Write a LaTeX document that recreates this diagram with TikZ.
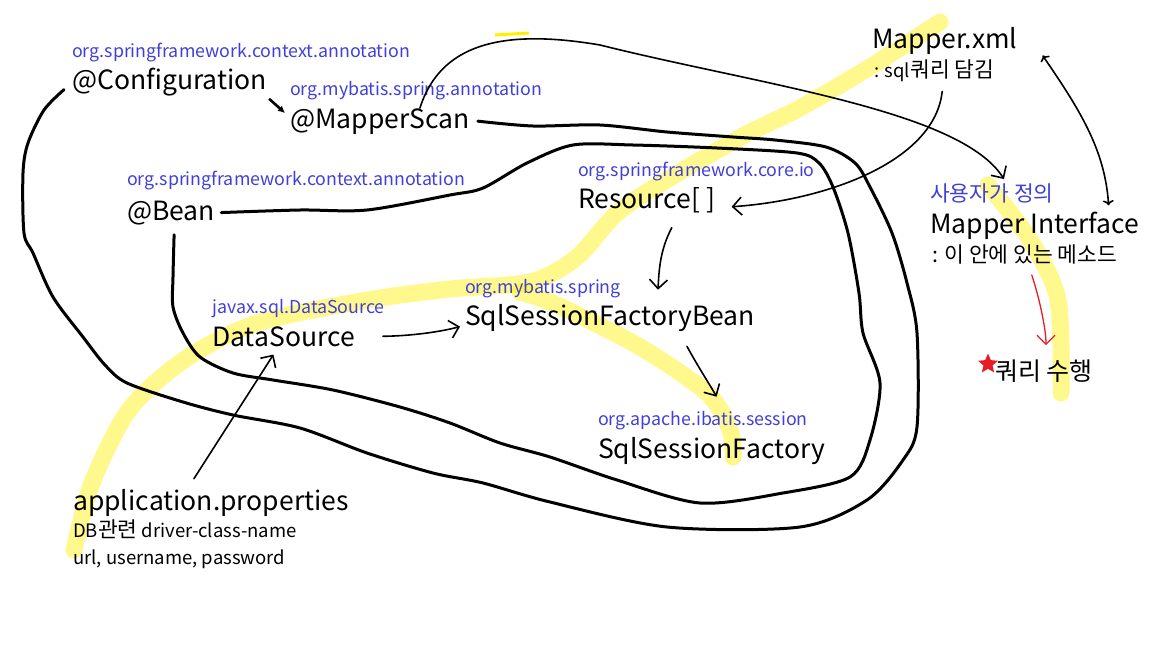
\documentclass[tikz,border=0pt]{standalone}
\usepackage{fontspec}
\setmainfont{Noto Sans CJK KR}
\usetikzlibrary{arrows.meta,shapes.geometric}
\definecolor{pkgblue}{RGB}{64,64,216}
\definecolor{hilite}{RGB}{255,240,0}
\definecolor{runred}{RGB}{232,28,36}
\newcommand\kr[1]{{\fontsize{21.5}{24}\selectfont #1}}
\tikzset{
  pkg/.style={anchor=base west,inner sep=0pt,text=pkgblue,font=\fontsize{17.8}{20}\selectfont},
  cls/.style={anchor=base west,inner sep=0pt,font=\fontsize{26.5}{30}\selectfont},
  note/.style={anchor=base west,inner sep=0pt,font=\fontsize{18.5}{22}\selectfont},
  ring/.style={line width=3pt,line cap=round,line join=round},
  link/.style={-{Straight Barb[length=9pt,width=18pt]},line width=1.6pt,line cap=round},
  marker/.style={hilite,opacity=.45,line width=17pt,line cap=round,line join=round},
}
\begin{document}
\begin{tikzpicture}[x=1pt,y=-1pt]
  \useasboundingbox (0,0) rectangle (1152,648);
  % highlighter strokes
  \draw[marker] plot[smooth] coordinates {(74,550) (92,483) (129,410) (184,360) (257,323) (368,300) (450,289) (530,282) (576,258) (615,215) (655,187) (741,137) (800,108) (870,67) (940,22)};
  \draw[marker] plot[smooth] coordinates {(520,292) (557,305) (640,347) (707,393) (730,430) (733,457)};
  \draw[marker] plot[smooth] coordinates {(988,185) (1030,240) (1058,300) (1061,393)};
  \draw[hilite,line width=3pt] (495,35) -- (529,33);

  % spring side
  \node[pkg] (confpkg) at (72,57) {org.springframework.context.annotation};
  \node[cls] (conf) at (72,89) {@Configuration};
  \node[pkg] (scanpkg) at (290,95) {org.mybatis.spring.annotation};
  \node[cls] (scan) at (290,128) {@MapperScan};
  \node[pkg] (beanpkg) at (127,185) {org.springframework.context.annotation};
  \node[cls] (bean) at (127,220) {@Bean};
  \node[pkg] (respkg) at (578,176) {org.springframework.core.io};
  \node[cls] (res) at (578,208) {Resource[ ]};
  \node[pkg] (dspkg) at (212,313) {javax.sql.DataSource};
  \node[cls] (ds) at (212,346) {DataSource};
  \node[pkg] (sfbpkg) at (465,293) {org.mybatis.spring};
  \node[cls] (sfb) at (465,325) {SqlSessionFactoryBean};
  \node[pkg] (sfpkg) at (598,425) {org.apache.ibatis.session};
  \node[cls] (sf) at (598,458) {SqlSessionFactory};

  % mapper side
  \node[cls] (xml) at (872,48) {Mapper.xml};
  \node[note] (xmlnote) at (874,77) {: sql\kr{쿼리 담김}};
  \node[pkg] (ifacepkg) at (930,201) {\kr{사용자가 정의}};
  \node[cls] (iface) at (930,233) {Mapper Interface};
  \node[note] (ifacenote) at (932,262) {\kr{: 이 안에 있는 메소드}};
  \node[note,font=\fontsize{25}{28}\selectfont] (run) at (995,380) {쿼리 수행};
  \node[star,star points=5,star point ratio=2.2,fill=runred,inner sep=0pt,minimum size=21pt] (runstar) at (988,364) {};

  % properties
  \node[cls] (props) at (73,510) {application.properties};
  \node[note] (propsnote) at (73,537) {DB\kr{관련} driver-class-name};
  \node[note] (propsnote2) at (73,564) {url, username, password};

  % groups
  \draw[ring] plot[smooth] coordinates {([shift={(-8,8)}]conf.west) (44,110) (28,143) (23,173) (24,233) (33,253) (53,297) (83,337) (105,365) (127,383) (183,402) (233,415) (300,428) (367,453) (433,473) (483,483) (550,502) (667,527) (800,527) (867,500) (903,460) (917,427) (917,333) (907,283) (892,233) (870,187) (855,163) (826,147) (775,140) (733,137) (667,132) (600,125) (533,126) ([xshift=8]scan.east)};
  \draw[ring] plot[smooth] coordinates {([shift={(3,10)}]bean.south) (173,277) (173,307) (183,333) (200,357) (233,373) (273,380) (333,390) (400,407) (450,423) (500,443) (550,457) (617,480) (700,503) (783,493) (850,477) (870,440) (880,383) (863,333) (859,293) (848,233) (833,187) (819,163) (797,153) (717,148) (633,145) (573,145) (527,163) (483,188) (450,195) (367,210) (300,210) ([xshift=6]bean.east)};

  % links
  \draw[-{Latex[length=7pt,width=7pt]},line width=2.6pt] ([shift={(2,3)}]conf.south east) -- ([shift={(-5,5)}]scan.north west);
  \draw[link] ([xshift=40]scan.north) .. controls (440,45) and (500,28) .. (600,45)
    .. controls (760,85) and (960,110) .. ([xshift=12,yshift=4]ifacepkg.north);
  \draw[link] ([shift={(8,10)}]xmlnote.south) .. controls (935,160) and (830,200) .. ([shift={(16,7)}]res.east);
  \draw[link,<->] ([shift={(25,15)}]xml.east) .. controls (1080,110) and (1105,150) .. ([shift={(-31,-6)}]iface.north east);
  \draw[link,runred,line width=1.3pt] ([shift={(7,11)}]ifacenote.south) .. controls (1040,300) and (1046,330) .. ([shift={(2,-14)}]run.north);
  \draw[link] ([shift={(25,15)}]res.south) .. controls (660,250) and (659,270) .. ([shift={(48,-14)}]sfb.north);
  \draw[link] ([xshift=28]ds.east) .. controls (410,336) and (440,332) .. ([shift={(-5,9)}]sfb.west);
  \draw[link] ([shift={(-17,-10)}]props.north) -- ([shift={(-10,8)}]ds.south);
  \draw[link] ([shift={(77,15)}]sfb.south) .. controls (700,370) and (710,385) .. ([shift={(5,-40)}]sf.north);
\end{tikzpicture}
\end{document}
